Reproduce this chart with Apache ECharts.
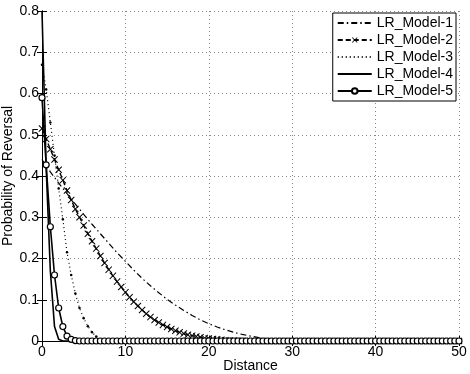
<!DOCTYPE html>
<html>
<head>
    <meta charset="UTF-8">
    <title>Probability of Reversal</title>
    <script type="text/javascript" src="https://cdn.jsdelivr.net/npm/echarts@6/dist/echarts.min.js"></script>
    <style>
        body { margin: 0; background: #fff; }
    </style>
</head>
<body>
<div id="main" style="width: 470px;height:374px;"></div>
<script type="text/javascript">
    // shared distance grid (step 0.5) for the marked curves
    var distance = [0,0.5,1,1.5,2,2.5,3,3.5,4,4.5,5,5.5,6,6.5,7,7.5,8,8.5,9,9.5,
        10,10.5,11,11.5,12,12.5,13,13.5,14,14.5,15,15.5,16,16.5,17,17.5,18,18.5,19,19.5,
        20,20.5,21,21.5,22,22.5,23,23.5,24,24.5,25,25.5,26,26.5,27,27.5,28,28.5,29,29.5,
        30,30.5,31,31.5,32,32.5,33,33.5,34,34.5,35,35.5,36,36.5,37,37.5,38,38.5,39,39.5,
        40,40.5,41,41.5,42,42.5,43,43.5,44,44.5,45,45.5,46,46.5,47,47.5,48,48.5,49,49.5,50];

    // LR_Model-1 (dash-dot)
    var model1X = [0,1,2,3,4,5,6,7,8,9,10,11,12,13,14,15,16,17,18,19,20,21,22,23,24,25,26,27,28,29,30,31,50];
    var model1Y = [0.44,0.41,0.383,0.357,0.332,0.307,0.283,0.26,0.237,0.214,0.193,0.172,0.152,0.134,0.117,0.101,
        0.087,0.074,0.062,0.051,0.042,0.034,0.027,0.021,0.016,0.012,0.008,0.005,0.003,0.0015,0.0005,0,0];

    // LR_Model-2 (dashed, x markers) on the distance grid
    var model2Y = [0.515,0.49,0.465,0.44,0.415,0.39,0.365,0.342,0.32,0.3,0.28,0.26,0.242,0.224,0.206,0.189,0.173,0.158,0.144,0.131,
        0.118,0.106,0.095,0.085,0.075,0.066,0.058,0.051,0.045,0.039,0.034,0.029,0.025,0.021,0.018,0.015,0.013,0.011,0.009,0.007,
        0.006,0.005,0.004,0.003,0.002,0.0015,0.001,0.0007,0.0004,0.0002,0.0001,0,0,0,0,0,0,0,0,0,
        0,0,0,0,0,0,0,0,0,0,0,0,0,0,0,0,0,0,0,0,
        0,0,0,0,0,0,0,0,0,0,0,0,0,0,0,0,0,0,0,0,0];

    // LR_Model-3 (dotted)
    var model3X = [0,0.5,1,1.5,2,2.5,3,3.5,4,4.5,5,5.5,6,6.5,7,7.5,8,50];
    var model3Y = [0.67,0.61,0.53,0.45,0.37,0.295,0.215,0.16,0.115,0.08,0.055,0.036,0.021,0.011,0.004,0.001,0,0];

    // LR_Model-4 (solid)
    var model4X = [0,0.5,1,1.5,2,2.5,50];
    var model4Y = [0.8,0.42,0.17,0.035,0.004,0,0];

    // LR_Model-5 (solid, circle markers) on the distance grid
    var model5Y = [0.59,0.427,0.277,0.16,0.08,0.035,0.012,0.004,0.001,0,0,0,0,0,0,0,0,0,0,0,
        0,0,0,0,0,0,0,0,0,0,0,0,0,0,0,0,0,0,0,0,
        0,0,0,0,0,0,0,0,0,0,0,0,0,0,0,0,0,0,0,0,
        0,0,0,0,0,0,0,0,0,0,0,0,0,0,0,0,0,0,0,0,
        0,0,0,0,0,0,0,0,0,0,0,0,0,0,0,0,0,0,0,0,0];

    var seriesNames = ['LR_Model-1','LR_Model-2','LR_Model-3','LR_Model-4','LR_Model-5'];
    var xTicks = [0,10,20,30,40,50];

    function pairs(xs, ys){
        var out = [];
        for(var i=0;i<xs.length;i++){
            out.push([xs[i], ys[i]]);
        }
        return out;
    }

    var crossPath = 'path://M0,1L1,0L5,4L9,0L10,1L6,5L10,9L9,10L5,6L1,10L0,9L4,5Z';
    var font = 'Liberation Sans, Arial, Helvetica, sans-serif';
    var hideMark = { opacity: 0 };

    var myChart = echarts.init(document.getElementById('main'));
    myChart.setOption({
        animation: false,
        backgroundColor: '#fff',
        textStyle: { fontFamily: font, color: '#000' },
        grid: { left: 42, right: 11, top: 11, bottom: 33, outerBoundsMode: 'none', containLabel: false },
        legend: {
            data: [
                { name: seriesNames[0], itemStyle: hideMark },
                { name: seriesNames[1] },
                { name: seriesNames[2], itemStyle: hideMark },
                { name: seriesNames[3], itemStyle: hideMark },
                { name: seriesNames[4] }
            ],
            orient: 'vertical',
            right: 14,
            top: 13,
            itemWidth: 34,
            itemHeight: 7,
            itemGap: 3,
            padding: [3, 3, 3, 4],
            borderColor: '#000',
            borderWidth: 1,
            borderRadius: 0,
            backgroundColor: '#fff',
            textStyle: { fontFamily: font, fontSize: 14, color: '#000' }
        },
        xAxis: [{
            type: 'value',
            min: xTicks[0],
            max: xTicks[xTicks.length - 1],
            interval: 10,
            name: 'Distance',
            nameLocation: 'middle',
            nameMoveOverlap: false,
            nameGap: 18,
            nameTextStyle: { fontSize: 14, color: '#000' },
            axisLine: { lineStyle: { color: '#000', width: 1 } },
            axisTick: { inside: true, length: 5, lineStyle: { color: '#000' } },
            axisLabel: { fontSize: 14, color: '#000', margin: 4 },
            splitLine: { show: true, lineStyle: { type: [1, 3], color: '#888', width: 1 } }
        }, {
            type: 'value',
            position: 'top',
            min: 0,
            max: 50,
            interval: 10,
            axisLine: { lineStyle: { color: '#000', width: 1 } },
            axisTick: { inside: true, length: 5, lineStyle: { color: '#000' } },
            axisLabel: { show: false },
            splitLine: { show: false }
        }],
        yAxis: [{
            type: 'value',
            min: 0,
            max: 0.8,
            interval: 0.1,
            name: 'Probability of Reversal',
            nameLocation: 'middle',
            nameMoveOverlap: false,
            nameGap: 27,
            nameTextStyle: { fontSize: 14, color: '#000' },
            axisLine: { show: true, lineStyle: { color: '#000', width: 1 } },
            axisTick: { show: true, inside: true, length: 5, lineStyle: { color: '#000' } },
            axisLabel: { fontSize: 14, color: '#000', margin: 3 },
            splitLine: { show: true, lineStyle: { type: [1, 3], color: '#888', width: 1 } }
        }, {
            type: 'value',
            position: 'right',
            min: 0,
            max: 0.8,
            interval: 0.1,
            axisLine: { show: true, lineStyle: { color: '#000', width: 1 } },
            axisTick: { show: true, inside: true, length: 5, lineStyle: { color: '#000' } },
            axisLabel: { show: false },
            splitLine: { show: false }
        }],
        series: [{
            name: seriesNames[0],
            type: 'line',
            data: pairs(model1X, model1Y),
            symbol: 'none',
            color: '#000',
            lineStyle: { color: '#000', width: 1.2, type: [6, 3, 1.5, 3] },
            z: 3
        }, {
            name: seriesNames[1],
            type: 'line',
            data: pairs(distance, model2Y),
            symbol: crossPath,
            symbolSize: 7,
            color: '#000',
            itemStyle: { color: '#000' },
            lineStyle: { color: '#000', width: 1.4, type: [5, 3] },
            z: 4
        }, {
            name: seriesNames[2],
            type: 'line',
            data: pairs(model3X, model3Y),
            symbol: 'circle',
            symbolSize: 2.5,
            color: '#000',
            itemStyle: { color: '#000' },
            lineStyle: { color: '#000', width: 1.2, type: [1, 3] },
            z: 3
        }, {
            name: seriesNames[3],
            type: 'line',
            data: pairs(model4X, model4Y),
            symbol: 'none',
            color: '#000',
            lineStyle: { color: '#000', width: 1.6 },
            z: 5
        }, {
            name: seriesNames[4],
            type: 'line',
            data: pairs(distance, model5Y),
            symbol: 'circle',
            symbolSize: 6,
            color: '#000',
            itemStyle: { color: '#fff', borderColor: '#000', borderWidth: 1.2 },
            lineStyle: { color: '#000', width: 1.6 },
            z: 6
        }]
    });
</script>
</body>
</html>
